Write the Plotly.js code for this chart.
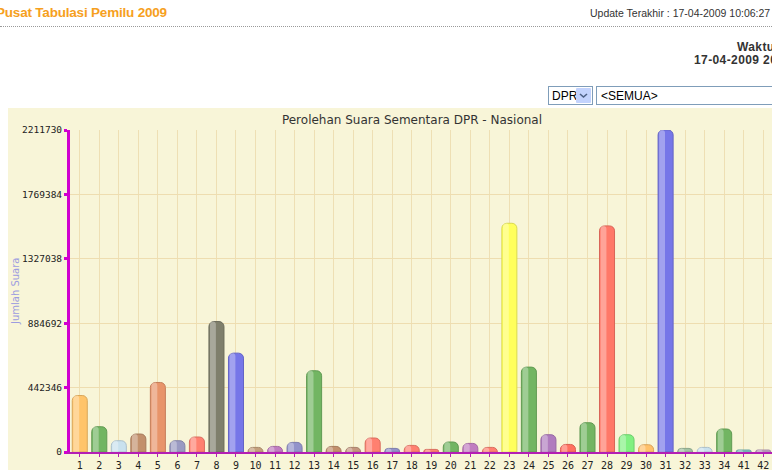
<!DOCTYPE html>
<html>
<head>
<meta charset="utf-8">
<script src="https://cdn.plot.ly/plotly-3.0.1.min.js"></script>
<style>
  html, body { margin:0; padding:0; width:772px; height:470px; overflow:hidden; background:#fff; position:relative; }
  .hdr { position:absolute; left:-4px; top:5px; font-family:"Liberation Sans", Arial, sans-serif; font-weight:bold; font-size:13.5px; color:#F6A01E; white-space:nowrap; letter-spacing:-0.2px; }
  .dots { position:absolute; left:0; top:26px; width:772px; border-top:1px dotted #9a9a9a; }
  .upd { position:absolute; left:590px; top:7px; font-family:"Liberation Sans", Arial, sans-serif; font-size:10.5px; color:#333; white-space:nowrap; }
  .wkt { position:absolute; font-family:"Liberation Sans", Arial, sans-serif; font-weight:bold; font-size:12px; color:#333; white-space:nowrap; letter-spacing:0.4px; }
  .sel { position:absolute; left:548px; top:86px; width:45px; height:19px; border:1px solid #7F9DB9; background:#fff; font-family:"Liberation Sans", Arial, sans-serif; font-size:12px; color:#000; box-sizing:border-box; }
  .sel span { position:absolute; left:3px; top:2px; }
  .sel .btn { position:absolute; right:1px; top:1px; width:15px; height:15px; background:#C3D3FD; border-radius:1px; }
  .inp { position:absolute; left:596px; top:86px; width:200px; height:19px; border:1px solid #7F9DB9; background:#fff; font-family:"Liberation Sans", Arial, sans-serif; font-size:12px; color:#000; box-sizing:border-box; }
  .inp span { position:absolute; left:4px; top:2px; }
  #chart { position:absolute; left:8px; top:108px; width:800px; height:372px; }
</style>
</head>
<body>
<div class="hdr">Pusat Tabulasi Pemilu 2009</div>
<div class="dots"></div>
<div class="upd">Update Terakhir : 17-04-2009 10:06:27</div>
<div class="wkt" style="left:737px; top:40px;">Waktu</div>
<div class="wkt" style="left:694px; top:53px;">17-04-2009 20:00:00</div>
<div class="sel"><span>DPR</span><div class="btn"><svg width="15" height="15"><path d="M4 6 L7.5 9 L11 6" stroke="#4D6185" stroke-width="1.6" fill="none"/></svg></div></div>
<div class="inp"><span>&lt;SEMUA&gt;</span></div>
<div id="chart"></div>
<script>
// Party numbers (categories)
const partai = ["1","2","3","4","5","6","7","8","9","10","11","12","13","14","15","16","17","18","19","20","21","22","23","24","25","26","27","28","29","30","31","32","33","34","41","42"];
// Provisional vote counts
const suara = [388000,173600,77500,123500,477600,77500,103000,896000,679000,31600,
               38400,66000,558000,38400,31600,96000,24700,45300,17800,68600,
               59000,31600,1571000,583000,118700,52000,201000,1553000,118700,50000,
               2211730,24700,31600,158000,13700,13700];
// Y tick values / labels
const yTicks = [0,442346,884692,1327038,1769384,2211730];
const yTickText = ["0","442346","884692","1327038","1769384","2211730"];

const barColors = ["#FFC46A","#72B562","#C9E1EE","#C2906C","#E8946A","#9A9AC2","#FF8070","#7F7F6C","#7676E8","#C4A07C",
                   "#C07CC0","#9292CA","#72B562","#C2906C","#C4967E","#FF8070","#9292CA","#FF8070","#FF8070","#72B562",
                   "#C07CC0","#FF8070","#FFFF5C","#72B562","#B07CBE","#FF7060","#72B562","#FF7868","#80F080","#FFC06A",
                   "#7676E8","#A2C2A2","#C9E1EE","#72B562","#7EC0C0","#C2A2C2"];

function shade(hex, f){
  const n = parseInt(hex.slice(1),16);
  let r=(n>>16)&255, g=(n>>8)&255, b=n&255;
  r=Math.round(r*f); g=Math.round(g*f); b=Math.round(b*f);
  return "rgb("+r+","+g+","+b+")";
}

const mainTrace = {
  type:"bar", x:partai, y:suara, width:0.77,
  marker:{ color:barColors, line:{color:barColors.map(c=>shade(c,0.85)), width:1}, cornerradius:5 },
  hoverinfo:"skip"
};
const hiTrace = {
  type:"bar", x:partai, y:suara, width:0.3, offset:-0.33,
  marker:{ color:"rgba(255,255,255,0.32)", line:{width:0}, cornerradius:4 },
  hoverinfo:"skip"
};

const layout = {
  width:800, height:372,
  margin:{l:62, r:34.5, t:22, b:27.7},
  paper_bgcolor:"#F8F5D8", plot_bgcolor:"#F8F5D8",
  barmode:"overlay", showlegend:false,
  title:{ text:"Perolehan Suara Sementara DPR - Nasional", font:{family:"DejaVu Sans", size:12, color:"#333"},
          x:0.505, xref:"container", xanchor:"center", y:1-12/372, yref:"container", yanchor:"middle" },
  xaxis:{ type:"category", range:[-0.5,35.5], showgrid:true, gridcolor:"#EEDFB4", gridwidth:1,
          showline:true, linecolor:"#B41EB4", linewidth:1.5,
          ticks:"outside", ticklen:3, tickcolor:"#B41EB4", tickwidth:1,
          tickfont:{family:"DejaVu Sans Mono", size:10, color:"#222"}, fixedrange:true },
  yaxis:{ range:[0,2211730], tickvals:yTicks, ticktext:yTickText, showgrid:true, gridcolor:"#EEDDB0", gridwidth:1,
          zeroline:false, showline:true, linecolor:"#D000D0", linewidth:3,
          ticks:"outside", ticklen:3, tickcolor:"#D000D0", tickwidth:3,
          tickfont:{family:"DejaVu Sans Mono", size:9.5, color:"#222"}, fixedrange:true },
  annotations:[{ text:"Jumlah Suara", textangle:-90, xref:"paper", yref:"paper", x:(15-70)/703.5, y:0.5,
                 xanchor:"center", yanchor:"middle", showarrow:false,
                 font:{family:"DejaVu Sans", size:10, color:"#9C9CE0"} }]
};
Plotly.newPlot("chart", [mainTrace, hiTrace], layout, {displayModeBar:false, staticPlot:true});
</script>
</body>
</html>
